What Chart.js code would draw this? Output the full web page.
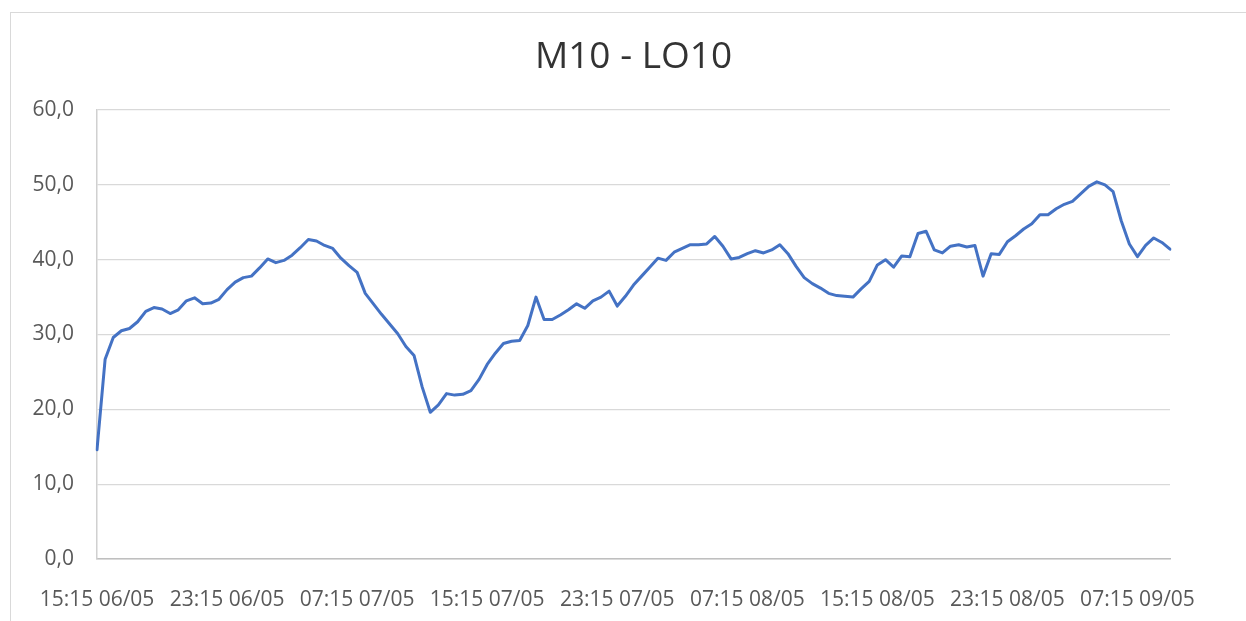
<!DOCTYPE html>
<html>
<head>
<meta charset="utf-8">
<script src="https://cdn.jsdelivr.net/npm/chart.js@4.4.1/dist/chart.umd.min.js"></script>
<style>
body{margin:0;background:#fff;overflow:hidden}
#frame{position:absolute;left:10px;top:12px;width:1300px;height:700px;border:1px solid #d9d9d9}
canvas{position:absolute;left:0;top:0}
</style>
</head>
<body>
<div id="frame"></div>
<canvas id="lineChart" width="1246" height="621"></canvas>
<script>
var chartTitle = "M10 - LO10";
// one label shown every 16 points (8 hours)
var tickLabels = ["15:15 06/05", "23:15 06/05", "07:15 07/05", "15:15 07/05", "23:15 07/05",
  "07:15 08/05", "15:15 08/05", "23:15 08/05", "07:15 09/05"];
// readings every 30 min from 15:15 06/05
var values = [
  14.6, 26.7, 29.6, 30.5, 30.8, 31.7, 33.1, 33.6, 33.4, 32.8,
  33.3, 34.5, 34.9, 34.1, 34.2, 34.7, 36.0, 37.0, 37.6, 37.8,
  38.9, 40.1, 39.6, 39.9, 40.6, 41.6, 42.7, 42.5, 41.9, 41.5,
  40.2, 39.2, 38.3, 35.5, 34.1, 32.7, 31.4, 30.1, 28.4, 27.2,
  23.0, 19.6, 20.6, 22.1, 21.9, 22.0, 22.5, 24.0, 26.0, 27.5,
  28.8, 29.1, 29.2, 31.2, 35.0, 32.0, 32.0, 32.6, 33.3, 34.1,
  33.5, 34.5, 35.0, 35.8, 33.8, 35.1, 36.6, 37.8, 39.0, 40.2,
  39.9, 41.0, 41.5, 42.0, 42.0, 42.1, 43.1, 41.8, 40.1, 40.3,
  40.8, 41.2, 40.9, 41.3, 42.0, 40.8, 39.1, 37.6, 36.8, 36.2,
  35.5, 35.2, 35.1, 35.0, 36.1, 37.1, 39.3, 40.0, 39.0, 40.5,
  40.4, 43.5, 43.8, 41.3, 40.9, 41.8, 42.0, 41.7, 41.9, 37.8,
  40.8, 40.7, 42.4, 43.2, 44.1, 44.8, 46.0, 46.0, 46.8, 47.4,
  47.8, 48.8, 49.8, 50.4, 50.0, 49.1, 45.2, 42.1, 40.4, 41.9,
  42.9, 42.3, 41.4
];
var yMin = 0, yMax = 60, yStep = 10;

function pad2(n){ return (n < 10 ? "0" : "") + n; }
var categories = [];
for (var i = 0; i < values.length; i++) {
  var m = 15 * 60 + 15 + i * 30;
  var day = 6 + Math.floor(m / 1440);
  m = m % 1440;
  categories.push(pad2(Math.floor(m / 60)) + ":" + pad2(m % 60) + " " + pad2(day) + "/05");
}

// title centred over the plot area, like Excel does
var titlePlugin = {
  id: "plotTitle",
  afterDraw: function(chart) {
    var ctx = chart.ctx, a = chart.chartArea;
    ctx.save();
    ctx.font = "37px 'Open Sans'";
    ctx.fillStyle = "#333333";
    ctx.textAlign = "center";
    ctx.textBaseline = "middle";
    ctx.fillText(chartTitle, (a.left + a.right) / 2, 57);
    ctx.restore();
  }
};

var ctxL = document.getElementById("lineChart").getContext("2d");
var myLineChart = new Chart(ctxL, {
  type: "line",
  data: {
    labels: categories,
    datasets: [{
      data: values,
      borderColor: "#4472C4",
      borderWidth: 3,
      pointRadius: 0,
      tension: 0,
      borderJoinStyle: "round",
      borderCapStyle: "round",
      fill: false
    }]
  },
  options: {
    responsive: false,
    animation: false,
    devicePixelRatio: 1,
    layout: { padding: { left: 20, right: 76, top: 110, bottom: 10 } },
    plugins: { legend: { display: false }, tooltip: { enabled: false }, title: { display: false } },
    scales: {
      x: {
        offset: false,
        afterFit: function(scale) { scale.height = 52; },
        grid: { display: false, drawTicks: false },
        border: { display: true, color: "#bfbfbf", width: 1.5 },
        ticks: {
          autoSkip: false, maxRotation: 0, minRotation: 0, padding: 28,
          color: "#595959", font: { family: "'Open Sans'", size: 21 },
          callback: function(val, idx) { return idx % 16 === 0 ? tickLabels[idx / 16] : null; }
        }
      },
      y: {
        min: yMin, max: yMax,
        afterFit: function(scale) { scale.width = 77; },
        grid: { color: "#d9d9d9", lineWidth: 1.3, drawTicks: false },
        border: { display: true, color: "#d0d0d0", width: 1.5 },
        ticks: {
          stepSize: yStep, padding: 23,
          color: "#595959", font: { family: "'Open Sans'", size: 21 },
          callback: function(v) { return v.toFixed(1).replace(".", ","); }
        }
      }
    }
  },
  plugins: [titlePlugin]
});
</script>
</body>
</html>
